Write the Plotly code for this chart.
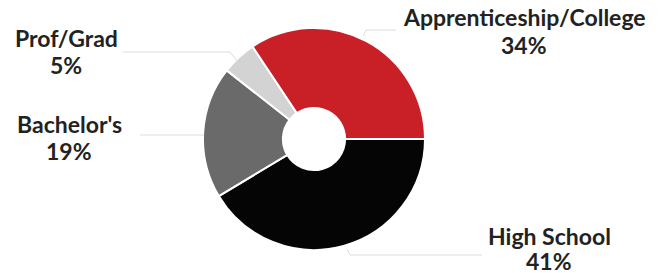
import plotly.graph_objects as go

# Data
categories = ["High School", "Bachelor's", "Prof/Grad", "Apprenticeship/College"]
values = [41, 19, 5, 34]
colors = ["#050505", "#6a6a6a", "#d3d3d3", "#c92027"]

W, H = 664, 273

def px(x, y):
    return x / W, 1 - y / H

# pie geometry (page pixels)
cx, cy, r = 314, 139, 111

fig = go.Figure()
x0, y1 = px(cx - r, cy - r)
x1, y0 = px(cx + r, cy + r)
fig.add_trace(go.Pie(
    labels=categories,
    values=values,
    sort=False,
    direction="clockwise",
    rotation=90,
    hole=0.28,
    textinfo="none",
    hoverinfo="label+percent",
    marker=dict(colors=colors, line=dict(color="white", width=2)),
    domain=dict(x=[x0, x1], y=[y0, y1]),
    showlegend=False,
))

# label baselines (page pixels): (x centre, name baseline, pct baseline)
label_pos = {
    "Apprenticeship/College": (524, 25, 53),
    "Prof/Grad": (66, 46.5, 73),
    "Bachelor's": (69, 132, 159),
    "High School": (549, 244.5, 269.5),
}
leaders = {
    "Apprenticeship/College": [(396, 30), (366, 30), (363, 36)],
    "Prof/Grad": [(123, 52), (230, 52), (238, 62)],
    "Bachelor's": [(140, 135), (204, 135)],
    "High School": [(482, 255), (350, 255), (347, 249)],
}

FS = 23
font = dict(family="Lato", size=FS, color="#222222", weight=700)
for name, v in zip(categories, values):
    xc, b1, b2 = label_pos[name]
    for txt, b in ((name, b1), (f"{v}%", b2)):
        x, y = px(xc, b - 0.36 * FS)
        fig.add_annotation(
            x=x, y=y, xref="paper", yref="paper",
            text=txt, showarrow=False, borderpad=0,
            xanchor="center", yanchor="middle", align="center",
            font=font,
        )
    pts = leaders[name]
    path = "M " + " L ".join(f"{px(a, b)[0]:.4f},{px(a, b)[1]:.4f}" for a, b in pts)
    fig.add_shape(type="path", path=path, xref="paper", yref="paper",
                  line=dict(color="#dddddd", width=1))

fig.update_layout(
    width=W, height=H,
    margin=dict(l=0, r=0, t=0, b=0),
    paper_bgcolor="white",
    plot_bgcolor="white",
)

fig.write_html(
    "out.html",
    config={"displayModeBar": False},
    post_script="document.body.style.margin='0';document.body.style.overflow='hidden';",
)
